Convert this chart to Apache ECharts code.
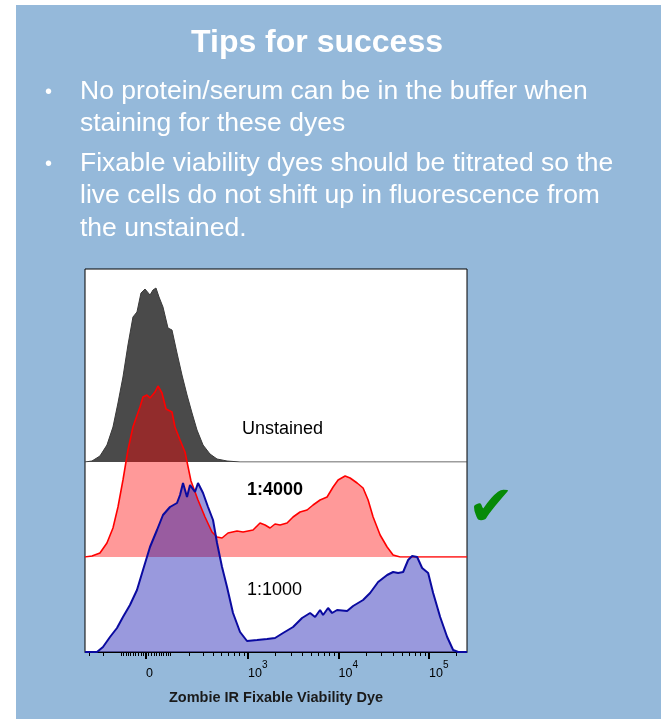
<!DOCTYPE html>
<html><head><meta charset="utf-8">
<script src="https://cdn.jsdelivr.net/npm/echarts@6/dist/echarts.min.js"></script>
<style>
html,body{margin:0;padding:0;background:#fff;width:661px;height:719px;overflow:hidden}
#slide{position:absolute;left:16px;top:5px;right:0;bottom:0;background:#95B9DA}
#chart{position:absolute;left:0;top:0;width:661px;height:719px}
</style></head>
<body><div id="slide"></div><div id="chart"></div>
<script>
// ---- data (x in display units: asinh(fluorescence/150)) ----
const unstainedX = [-1.55,-1.373,-1.170,-0.992,-0.839,-0.712,-0.585,-0.458,-0.331,-0.229,-0.127,-0.025,0.102,0.178,0.254,0.331,0.432,0.559,0.661,0.788,0.915,1.043,1.170,1.297,1.450,1.627,1.806,2.060,2.391,8.159];
const unstainedY = [0,1,6,17,35,59,85,117,145,150,169,173,167,172,174,165,155,134,132,109,87,67,49,32,17,8,3,1,0,0];

const d4000X = [-1.55,-1.373,-1.170,-0.992,-0.839,-0.712,-0.585,-0.458,-0.331,-0.153,-0.076,0.025,0.102,0.229,0.305,0.407,0.509,0.661,0.737,0.865,0.992,1.144,1.322,1.500,1.678,1.806,1.933,2.085,2.314,2.467,2.721,2.899,3.026,3.153,3.280,3.408,3.586,3.738,3.916,4.094,4.247,4.425,4.603,4.756,4.883,5.061,5.188,5.366,5.518,5.646,5.773,5.951,6.129,6.281,6.459,8.159];
const d4000Y = [0,1,4,14,29,50,77,107,130,150,160,162,159,165,171,164,148,145,130,117,105,76,57,40,25,20,19,24,26,25,27,34,32,29,33,32,34,40,45,47,52,57,60,70,77,81,79,74,69,57,40,22,10,2,0,0];

const d1000X = [-1.55,-1.246,-1.093,-0.915,-0.737,-0.585,-0.407,-0.229,-0.076,0.102,0.280,0.432,0.610,0.788,0.865,0.941,1.043,1.119,1.246,1.322,1.450,1.577,1.704,1.806,1.933,2.060,2.212,2.391,2.568,2.823,3.077,3.280,3.484,3.738,3.967,4.171,4.298,4.425,4.501,4.628,4.730,4.857,5.112,5.264,5.518,5.696,5.900,6.129,6.281,6.409,6.536,6.663,6.765,6.892,7.019,7.172,7.299,7.477,7.655,7.807,7.934,8.159];
const d1000Y = [0,0,5,15,24,35,47,62,82,105,122,137,145,149,157,169,155,167,160,169,159,145,132,109,85,65,39,20,11,12,13,14,19,25,34,39,35,42,37,44,39,42,41,46,52,59,70,77,80,79,80,92,96,95,84,79,59,35,15,2,0,0];

const sampleLabels = ['Unstained', '1:4000', '1:1000'];
const minorTickValues = [-300,-200,-100,-90,-80,-70,-60,-50,-40,-30,-20,-10,10,20,30,40,50,60,70,80,90,100,200,300,400,500,600,700,800,900,2000,3000,4000,5000,6000,7000,8000,9000,20000,30000,40000,50000,60000,70000,80000,90000,200000];
const majorTickValues = [0,1000,10000,100000];
const labelValues = [0,1000,10000,100000];
const labelBase = ['0','10','10','10'];
const labelExp = ['','3','4','5'];
const axisTitle = 'Zombie IR Fixable Viability Dye';
const slideTitle = 'Tips for success';
const bulletLines = [
  ['No protein/serum can be in the buffer when', 'staining for these dyes'],
  ['Fixable viability dyes should be titrated so the', 'live cells do not shift up in fluorescence from', 'the unstained.']
];

// ---- display transform (biexponential-like) ----
const T = v => Math.asinh(v / 150);
const XMIN = -1.55, XMAX = T(262144);
const pairs = (xs, ys) => xs.map((x, i) => [x, ys[i]]);
const FONT = '"Liberation Sans", Arial, sans-serif';

const chart = echarts.init(document.getElementById('chart'));
const gl = {left: 85, right: 194};
const hidX = i => ({type:'value', gridIndex:i, min:XMIN, max:XMAX, show:false});
const hidY = (i, m) => ({type:'value', gridIndex:i, min:0, max:m, show:false});

const graphics = [];
graphics.push({type:'text', z:100, style:{text:slideTitle, x:317, y:43, align:'center', verticalAlign:'middle', font:'bold 32px ' + FONT, fill:'#fff'}});
const lineY = [[92,124],[164,196,229]];
bulletLines.forEach((lines, b) => {
  graphics.push({type:'text', z:100, style:{text:'\u2022', x:45, y:lineY[b][0], align:'left', verticalAlign:'middle', font:'20px ' + FONT, fill:'#fff'}});
  lines.forEach((t, k) => graphics.push({type:'text', z:100, style:{text:t, x:80, y:lineY[b][k], align:'left', verticalAlign:'middle', font:'26.5px ' + FONT, fill:'#fff'}}));
});
const labPos = [[242,429,'normal'],[247,490,'bold'],[247,590,'normal']];
sampleLabels.forEach((t, i) => graphics.push({type:'text', z:100, style:{text:t, x:labPos[i][0], y:labPos[i][1], align:'left', verticalAlign:'middle', font:labPos[i][2] + ' 18px ' + FONT, fill:'#000'}}));
graphics.push({type:'text', z:100, style:{text:'\u2714', x:491, y:510, align:'center', verticalAlign:'middle', font:'56px "DejaVu Sans"', fill:'#078a07'}});

const labelVals = labelValues.map(T);
chart.setOption({
  backgroundColor: 'transparent',
  animation: false,
  graphic: graphics,
  grid: [
    {left:gl.left, right:gl.right, top:269, bottom:67, show:true, backgroundColor:'#fff', borderColor:'#000', borderWidth:1},
    {left:gl.left, right:gl.right, bottom:257, height:180},
    {left:gl.left, right:gl.right, bottom:162, height:180},
    {left:gl.left, right:gl.right, bottom:67, height:180}
  ],
  xAxis: [
    {type:'value', gridIndex:0, min:XMIN, max:XMAX, position:'bottom',
     axisLine:{show:true, lineStyle:{color:'#000', width:1}},
     axisTick:{show:true, customValues:minorTickValues.map(T), length:4, lineStyle:{color:'#000', width:1}},
     axisLabel:{show:false}, splitLine:{show:false}},
    {type:'value', gridIndex:0, min:XMIN, max:XMAX, position:'bottom',
     axisLine:{show:false},
     axisTick:{show:true, customValues:majorTickValues.map(T), length:7, lineStyle:{color:'#000', width:2}},
     axisLabel:{show:true, customValues:labelVals, align:'left', margin:16,
       formatter: v => { const i = labelVals.findIndex(x => Math.abs(x - v) < 1e-6); if (i < 0) return ''; return '{n|' + labelBase[i] + '}{e|' + (labelExp[i] || ' ') + '}'; },
       rich:{ n:{fontFamily:FONT, fontSize:12.5, color:'#000', lineHeight:12, verticalAlign:'bottom'},
              e:{fontFamily:FONT, fontSize:10, color:'#000', lineHeight:10, verticalAlign:'bottom', padding:[0,0,10,0]} }},
     splitLine:{show:false},
     name: axisTitle, nameLocation:'middle', nameGap:38,
     nameTextStyle:{fontFamily:FONT, fontWeight:'bold', fontSize:14.5, color:'#1a1a1a'}},
    hidX(1), hidX(2), hidX(3)
  ],
  yAxis: [hidY(0,1), hidY(1,180), hidY(2,180), hidY(3,180)],
  series: [
    {type:'line', xAxisIndex:2, yAxisIndex:1, data:pairs(unstainedX, unstainedY), showSymbol:false, symbol:'none',
     lineStyle:{color:'#3a3a3a', width:1}, areaStyle:{color:'#4a4a4a', opacity:1}},
    {type:'line', xAxisIndex:3, yAxisIndex:2, data:pairs(d4000X, d4000Y), showSymbol:false, symbol:'none',
     lineStyle:{color:'#ff0000', width:1.6}, areaStyle:{color:'#ff0000', opacity:0.4}},
    {type:'line', xAxisIndex:4, yAxisIndex:3, data:pairs(d1000X, d1000Y), showSymbol:false, symbol:'none',
     lineStyle:{color:'#0a0aa0', width:2}, areaStyle:{color:'#0000aa', opacity:0.4}}
  ]
});
</script></body></html>
